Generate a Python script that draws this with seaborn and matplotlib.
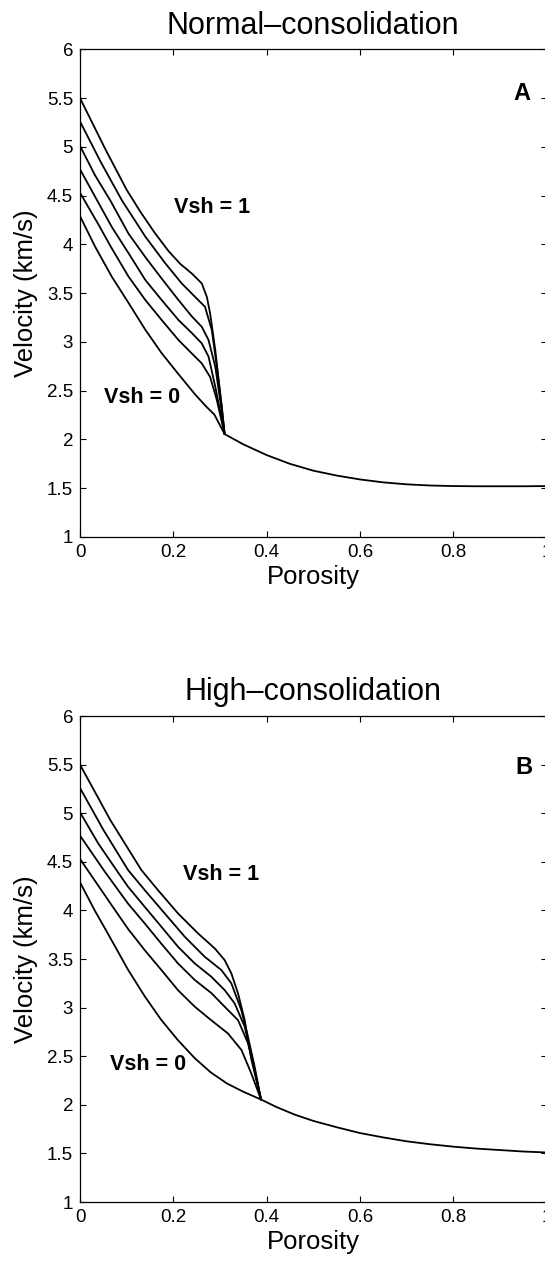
import matplotlib
matplotlib.use("Agg")
import matplotlib.pyplot as plt
import pandas as pd
import seaborn as sns
from matplotlib.ticker import FuncFormatter, MultipleLocator

# Shale fraction of each curve (bottom to top)
vsh_levels = [0.0, 0.2, 0.4, 0.6, 0.8, 1.0]

# ---- Panel A: normal consolidation (curves meet at porosity ~0.31) ----
normal_porosity = [
    [0, 0.032, 0.068, 0.104, 0.14, 0.175, 0.211, 0.247, 0.27, 0.288, 0.31],
    [0, 0.04, 0.068, 0.104, 0.14, 0.175, 0.211, 0.24, 0.261, 0.279, 0.293, 0.31],
    [0, 0.038, 0.068, 0.104, 0.14, 0.175, 0.211, 0.24, 0.261, 0.2755, 0.29, 0.304, 0.31],
    [0, 0.032, 0.065, 0.104, 0.14, 0.175, 0.211, 0.24, 0.261, 0.2755, 0.29, 0.3005, 0.31],
    [0, 0.045, 0.09, 0.14, 0.183, 0.218, 0.247, 0.268, 0.2826, 0.2933, 0.304, 0.31],
    [0, 0.055, 0.1, 0.13, 0.16, 0.19, 0.215, 0.24, 0.261, 0.272, 0.279, 0.29, 0.3005, 0.31],
]
normal_velocity = [
    [4.29, 3.98, 3.67, 3.40, 3.125, 2.885, 2.67, 2.46, 2.34, 2.255, 2.055],
    [4.53, 4.20, 3.96, 3.67, 3.43, 3.225, 3.02, 2.88, 2.78, 2.64, 2.41, 2.055],
    [4.77, 4.44, 4.18, 3.91, 3.635, 3.43, 3.225, 3.09, 2.985, 2.85, 2.54, 2.20, 2.055],
    [5.01, 4.71, 4.45, 4.11, 3.87, 3.65, 3.43, 3.26, 3.155, 3.02, 2.745, 2.40, 2.055],
    [5.26, 4.84, 4.45, 4.08, 3.805, 3.60, 3.46, 3.36, 3.12, 2.745, 2.335, 2.055],
    [5.50, 4.97, 4.56, 4.33, 4.12, 3.93, 3.80, 3.70, 3.60, 3.46, 3.29, 2.915, 2.47, 2.055],
]
normal_tail_porosity = [0.31, 0.35, 0.40, 0.45, 0.50, 0.55, 0.60, 0.65, 0.70,
                        0.75, 0.80, 0.85, 0.90, 0.95, 1.0]
normal_tail_velocity = [2.055, 1.95, 1.84, 1.75, 1.68, 1.63, 1.59, 1.56, 1.54,
                        1.528, 1.522, 1.52, 1.52, 1.52, 1.522]

# ---- Panel B: high consolidation (curves meet at porosity ~0.39) ----
high_porosity = [
    [0, 0.031, 0.067, 0.103, 0.139, 0.174, 0.21, 0.246, 0.28, 0.315, 0.35, 0.388],
    [0, 0.067, 0.103, 0.139, 0.174, 0.21, 0.246, 0.2815, 0.317, 0.346, 0.367, 0.388],
    [0, 0.053, 0.103, 0.139, 0.174, 0.21, 0.246, 0.2815, 0.31, 0.339, 0.36, 0.374, 0.388],
    [0, 0.039, 0.078, 0.103, 0.1386, 0.1743, 0.21, 0.2457, 0.2815, 0.31, 0.3315, 0.353, 0.371, 0.388],
    [0, 0.05, 0.103, 0.1386, 0.1815, 0.2244, 0.2672, 0.303, 0.3244, 0.3458, 0.36, 0.3744, 0.388],
    [0, 0.065, 0.1315, 0.167, 0.21, 0.253, 0.2887, 0.31, 0.3244, 0.3387, 0.353, 0.3672, 0.388],
]
high_velocity = [
    [4.29, 4.005, 3.70, 3.39, 3.115, 2.875, 2.665, 2.48, 2.335, 2.22, 2.135, 2.055],
    [4.53, 4.06, 3.81, 3.59, 3.39, 3.18, 3.01, 2.87, 2.735, 2.565, 2.325, 2.055],
    [4.77, 4.40, 4.07, 3.865, 3.66, 3.455, 3.285, 3.15, 3.01, 2.87, 2.635, 2.36, 2.055],
    [5.01, 4.69, 4.416, 4.244, 4.038, 3.833, 3.627, 3.456, 3.318, 3.181, 3.044, 2.804, 2.427, 2.055],
    [5.26, 4.83, 4.416, 4.21, 3.97, 3.73, 3.524, 3.387, 3.25, 2.975, 2.701, 2.392, 2.055],
    [5.50, 4.93, 4.416, 4.21, 3.97, 3.764, 3.61, 3.49, 3.353, 3.147, 2.872, 2.47, 2.055],
]
high_tail_porosity = [0.388, 0.42, 0.46, 0.50, 0.55, 0.60, 0.65, 0.70, 0.75,
                      0.80, 0.85, 0.90, 0.95, 1.0]
high_tail_velocity = [2.055, 1.98, 1.90, 1.835, 1.77, 1.71, 1.665, 1.625, 1.595,
                      1.57, 1.55, 1.535, 1.52, 1.51]

panel_titles = ["Normal\u2013consolidation", "High\u2013consolidation"]
panel_letters = ["A", "B"]


def long_table(porosity, velocity, tail_phi, tail_vel):
    rows = []
    for k, (phis, vels) in enumerate(zip(porosity, velocity)):
        for p, v in zip(phis, vels):
            rows.append({"Porosity": p, "Velocity": v,
                         "curve": f"Vsh={vsh_levels[k]:g}"})
    for p, v in zip(tail_phi, tail_vel):
        rows.append({"Porosity": p, "Velocity": v, "curve": "fluid"})
    return pd.DataFrame(rows)


sns.set_style("ticks")
plt.rcParams.update({
    "font.family": ["Liberation Sans", "DejaVu Sans"],
    "axes.linewidth": 0.9,
    "axes.edgecolor": "black",
    "text.color": "black",
    "axes.labelcolor": "black",
    "xtick.color": "black",
    "ytick.color": "black",
})

fig = plt.figure(figsize=(5.45, 12.62), dpi=100)
ax_a = fig.add_axes([0.1468, 0.5745, 0.856, 0.3864])
ax_b = fig.add_axes([0.1468, 0.0475, 0.856, 0.3851])

tables = [
    long_table(normal_porosity, normal_velocity, normal_tail_porosity, normal_tail_velocity),
    long_table(high_porosity, high_velocity, high_tail_porosity, high_tail_velocity),
]

# label anchors (porosity, velocity) per panel
vsh1_pos = [(0.2015, 4.317), (0.221, 4.317)]
vsh0_pos = [(0.051, 2.369), (0.064, 2.36)]
letter_pos = [(0.966, 5.483), (0.969, 5.406)]
title_pad = [11.2, 11.7]

fmt = FuncFormatter(lambda v, _: f"{v:g}")

for i, ax in enumerate([ax_a, ax_b]):
    sns.lineplot(data=tables[i], x="Porosity", y="Velocity", units="curve",
                 estimator=None, sort=False, color="black", linewidth=1.3,
                 legend=False, ax=ax)
    ax.set_xlim(0, 1)
    ax.set_ylim(1, 6)
    ax.xaxis.set_major_locator(MultipleLocator(0.2))
    ax.yaxis.set_major_locator(MultipleLocator(0.5))
    ax.xaxis.set_major_formatter(fmt)
    ax.yaxis.set_major_formatter(fmt)
    ax.tick_params(which="both", direction="in", top=True, right=True,
                   length=4, width=0.8, labelsize=13.5, pad=5, colors="black")
    for side in ["top", "right", "left", "bottom"]:
        ax.spines[side].set_visible(True)
    ax.set_xlabel("Porosity", fontsize=18.5, labelpad=3)
    ax.set_ylabel("Velocity (km/s)", fontsize=18.5, labelpad=6)
    ax.set_title(panel_titles[i], fontsize=22, pad=title_pad[i])
    ax.text(*vsh1_pos[i], "Vsh = 1", fontsize=15.5, fontweight="bold",
            va="baseline", ha="left")
    ax.text(*vsh0_pos[i], "Vsh = 0", fontsize=15.5, fontweight="bold",
            va="baseline", ha="left")
    ax.text(*letter_pos[i], panel_letters[i], fontsize=17, fontweight="bold",
            va="baseline", ha="right")

fig.savefig("out.png", dpi=100)
